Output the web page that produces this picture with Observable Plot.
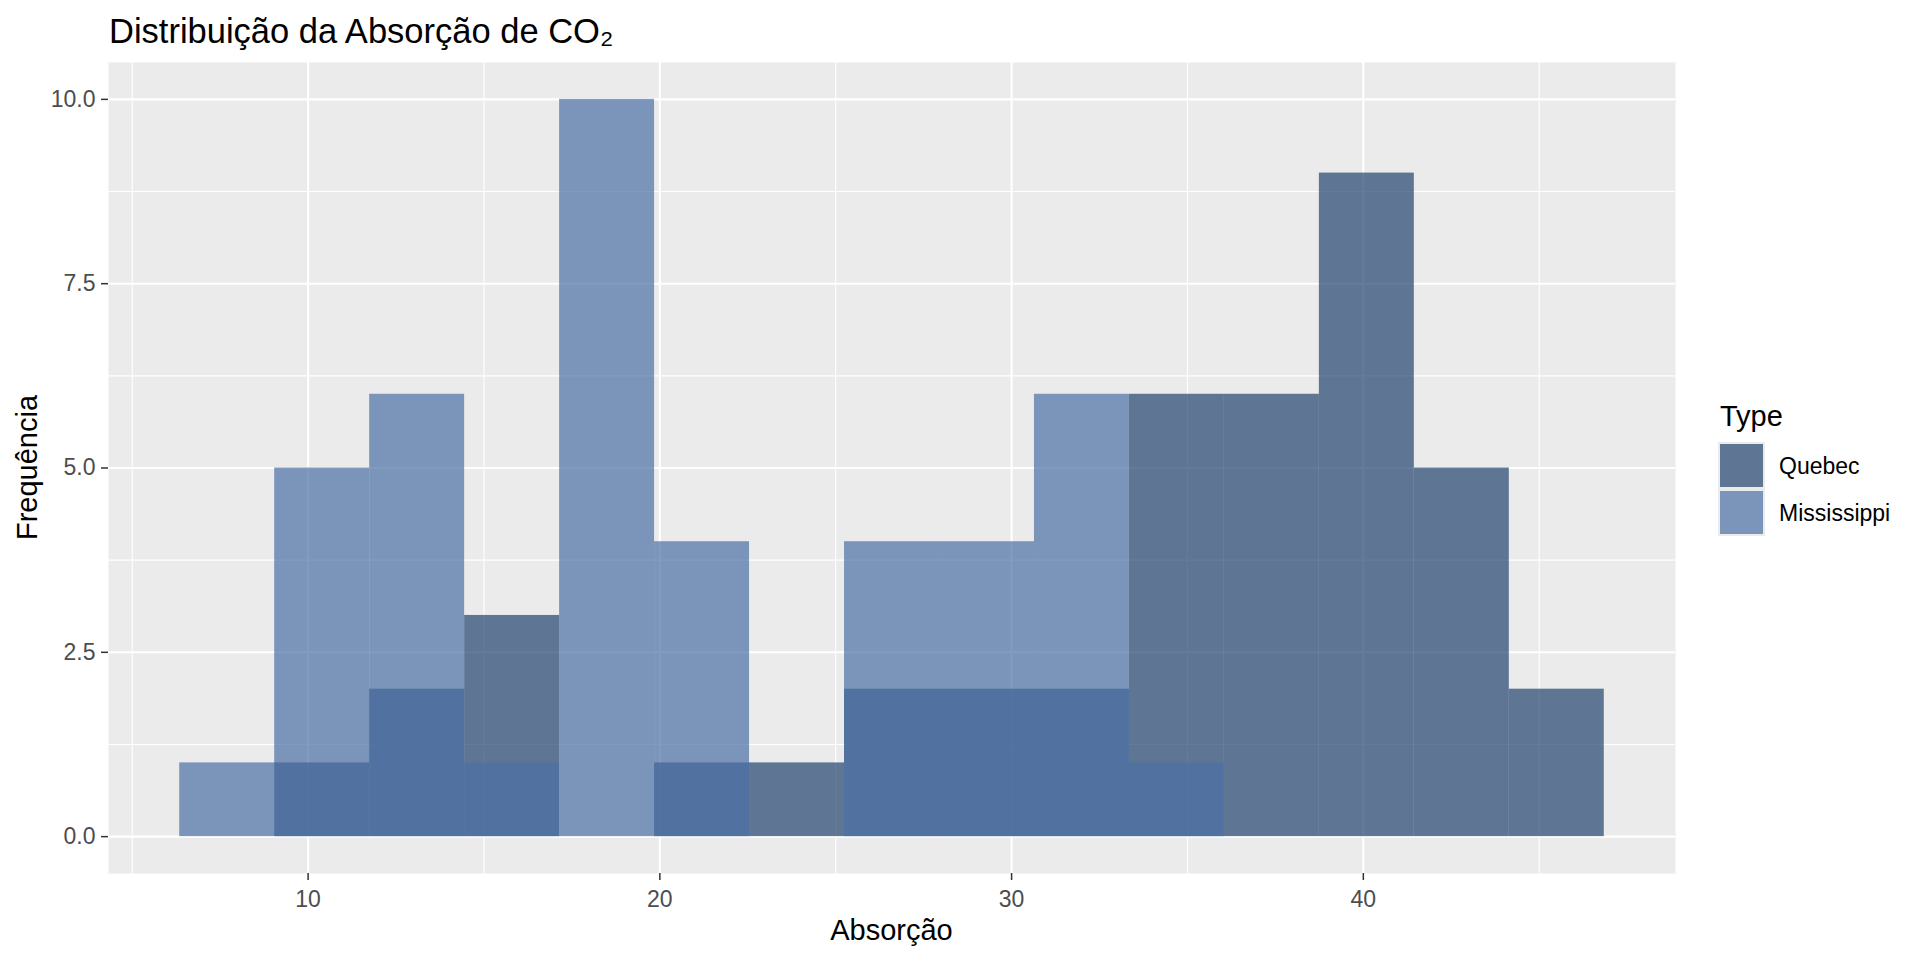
<!DOCTYPE html>
<html>
<head>
<meta charset="utf-8">
<script src="https://cdn.jsdelivr.net/npm/d3@7"></script>
<script src="https://cdn.jsdelivr.net/npm/@observablehq/plot@0.6"></script>
<style>
  html, body { margin: 0; padding: 0; background: #ffffff; }
  #wrap { position: relative; width: 1920px; height: 960px; overflow: hidden; }
  #wrap > svg { position: absolute; left: 0; top: 0; }
  .ov { font-family: "Liberation Sans", Arial, sans-serif; }
</style>
</head>
<body>
<div id="wrap"></div>
<script>
// ---- data ----
const binEdges = [6.35, 9.05, 11.75, 14.45, 17.15, 19.85, 22.55, 25.25, 27.95, 30.65, 33.35, 36.05, 38.75, 41.45, 44.15, 46.85];
const quebecCounts = [0, 1, 2, 3, 0, 1, 1, 2, 2, 2, 6, 6, 9, 5, 2];
const mississippiCounts = [1, 5, 6, 1, 10, 4, 0, 4, 4, 6, 1, 0, 0, 0, 0];
const types = ["Quebec", "Mississippi"];
const typeColors = ["#22456F", "#4B71A5"];
const xTicks = [10, 20, 30, 40];
const xMinor = [5, 15, 25, 35, 45];
const yTicks = [0, 2.5, 5, 7.5, 10];
const yMinor = [1.25, 3.75, 6.25, 8.75];
const titleText = "Distribuição da Absorção de CO₂";
const xLabel = "Absorção";
const yLabel = "Frequência";
const legendTitle = "Type";

function rows(type, counts) {
  return counts.map((c, i) => ({type, x1: binEdges[i], x2: binEdges[i + 1], count: c})).filter(d => d.count > 0);
}
const quebecRows = rows("Quebec", quebecCounts);
const mississippiRows = rows("Mississippi", mississippiCounts);

const font = '"Liberation Sans", Arial, sans-serif';
const W = 1920, H = 960;
const mL = 108, mR = 245, mT = 62, mB = 87;

const chart = Plot.plot({
  width: W, height: H,
  marginLeft: mL, marginRight: mR, marginTop: mT, marginBottom: mB,
  x: {domain: [4.325, 48.875]},
  y: {domain: [-0.5, 10.5]},
  color: {domain: types, range: typeColors},
  style: {fontFamily: font, fontSize: "23px", background: "#ffffff", color: "#000"},
  marks: [
    Plot.frame({fill: "#EBEBEB", stroke: "none"}),
    Plot.gridX({ticks: xMinor, stroke: "#ffffff", strokeOpacity: 1, strokeWidth: 1.1}),
    Plot.gridY({ticks: yMinor, stroke: "#ffffff", strokeOpacity: 1, strokeWidth: 1.1}),
    Plot.gridX({ticks: xTicks, stroke: "#ffffff", strokeOpacity: 1, strokeWidth: 2.1}),
    Plot.gridY({ticks: yTicks, stroke: "#ffffff", strokeOpacity: 1, strokeWidth: 2.1}),
    Plot.rect(quebecRows, {x1: "x1", x2: "x2", y1: d => 0, y2: "count", fill: "type", fillOpacity: 0.7}),
    Plot.rect(mississippiRows, {x1: "x1", x2: "x2", y1: d => 0, y2: "count", fill: "type", fillOpacity: 0.7}),
    Plot.axisX({ticks: xTicks, tickSize: 7, tickPadding: 10, color: "#4D4D4D", stroke: "#333333", strokeWidth: 1.5, label: null, fontSize: 23}),
    Plot.axisY({ticks: yTicks, tickFormat: d3.format(".1f"), tickSize: 7, tickPadding: 6, color: "#4D4D4D", stroke: "#333333", strokeWidth: 1.5, label: null, fontSize: 23})
  ]
});
const wrap = document.getElementById("wrap");
wrap.appendChild(chart);

// ---- overlay: titles and legend ----
const ns = "http://www.w3.org/2000/svg";
const ov = d3.select(wrap).append("svg")
  .attr("class", "ov")
  .attr("width", W).attr("height", H)
  .style("position", "absolute").style("left", 0).style("top", 0)
  .style("pointer-events", "none");

ov.append("text").attr("x", 109).attr("y", 43)
  .attr("font-size", 34.5).attr("fill", "#000").attr("font-family", font)
  .text(titleText);

ov.append("text").attr("x", (mL + (W - mR)) / 2).attr("y", 940)
  .attr("font-size", 29).attr("fill", "#000").attr("text-anchor", "middle").attr("font-family", font)
  .text(xLabel);

ov.append("text").attr("transform", `translate(37,${(mT + (H - mB)) / 2}) rotate(-90)`)
  .attr("font-size", 29).attr("fill", "#000").attr("text-anchor", "middle").attr("font-family", font)
  .text(yLabel);

ov.append("text").attr("x", 1720).attr("y", 426)
  .attr("font-size", 29).attr("fill", "#000").attr("font-family", font)
  .text(legendTitle);

const keyX = 1718, keyY = 442, keyS = 47;
types.forEach((t, i) => {
  const y0 = keyY + i * keyS;
  ov.append("rect").attr("x", keyX).attr("y", y0).attr("width", keyS).attr("height", keyS).attr("fill", "#EBEBEB");
  ov.append("rect").attr("x", keyX + 2).attr("y", y0 + 2).attr("width", keyS - 4).attr("height", keyS - 4)
    .attr("fill", chart.scale("color").apply(t)).attr("fill-opacity", 0.7);
  ov.append("text").attr("x", 1779).attr("y", y0 + keyS / 2 + 8.2)
    .attr("font-size", 23).attr("fill", "#000").attr("font-family", font)
    .text(t);
});
</script>
</body>
</html>
